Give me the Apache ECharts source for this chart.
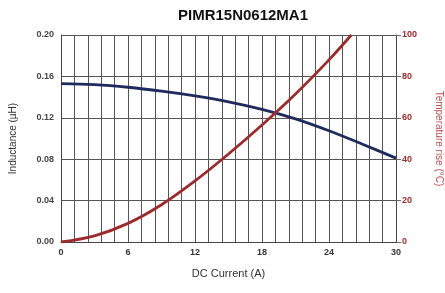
<!DOCTYPE html>
<html>
<head>
<meta charset="utf-8">
<script src="https://cdn.jsdelivr.net/npm/echarts@6/dist/echarts.min.js"></script>
<style>html,body{margin:0;padding:0;background:#fff;}#c{width:445px;height:293px;}</style>
</head>
<body>
<div id="c"></div>
<script>
var titleText = 'PIMR15N0612MA1';
var currentL = [0, 3, 6, 9, 12, 15, 18, 21, 24, 27, 30];
var inductance = [0.153, 0.152, 0.1495, 0.1458, 0.1412, 0.1355, 0.1282, 0.119, 0.1075, 0.0945, 0.081];
var currentT = [0, 3, 6, 9, 12, 15, 18, 21, 24, 26];
var tempRise = [0, 3, 9, 18, 29.5, 42.5, 56.5, 71.5, 88, 100];
var xName = 'DC Current (A)';
var yLeftName = 'Inductance (\u00b5H)';
var yRightName = 'Temperature rise (\u00b0C)';

function pairs(xs, ys) { return xs.map(function (x, i) { return [x, ys[i]]; }); }

var chart = echarts.init(document.getElementById('c'));
chart.setOption({
  animation: false,
  backgroundColor: '#fff',
  title: {
    text: titleText, left: 238, top: 3, textAlign: 'center',
    textStyle: { fontFamily: 'Liberation Sans, Arial', fontSize: 15, fontWeight: 'bold', color: '#111' }
  },
  grid: { left: 61, right: 49, top: 35, bottom: 51, containLabel: false, outerBoundsMode: 'none' },
  xAxis: {
    type: 'value', min: 0, max: 30, interval: 1.2,
    name: xName, nameLocation: 'middle', nameGap: 26,
    nameTextStyle: { fontFamily: 'Liberation Sans, Arial', fontSize: 11, color: '#333' },
    axisLine: { show: true, lineStyle: { color: '#444', width: 1 } },
    axisTick: { show: false },
    splitLine: { show: true, lineStyle: { color: '#555', width: 1 } },
    axisLabel: {
      margin: 6, fontFamily: 'Liberation Sans, Arial', fontSize: 9, fontWeight: 'bold', color: '#333',
      formatter: function (v) { var r = v / 6; return Math.abs(r - Math.round(r)) < 1e-6 ? String(Math.round(v)) : ''; }
    }
  },
  yAxis: [{
    type: 'value', min: 0, max: 0.2, interval: 0.04,
    name: yLeftName, nameLocation: 'middle', nameGap: 43, nameRotate: 90,
    nameTextStyle: { fontFamily: 'Liberation Sans, Arial', fontSize: 10, color: '#333' },
    axisLine: { show: true, lineStyle: { color: '#444' } },
    axisTick: { show: false },
    splitLine: { show: true, lineStyle: { color: '#555', width: 1 } },
    axisLabel: { margin: 7, fontFamily: 'Liberation Sans, Arial', fontSize: 9, fontWeight: 'bold', color: '#444',
      formatter: function (v) { return v.toFixed(2); } }
  }, {
    type: 'value', min: 0, max: 100, interval: 20, position: 'right',
    name: yRightName, nameLocation: 'middle', nameGap: 38, nameRotate: -90,
    nameTextStyle: { fontFamily: 'Liberation Sans, Arial', fontSize: 10, color: '#c0504d' },
    axisLine: { show: true, lineStyle: { color: '#444' } },
    axisTick: { show: true, length: 5, lineStyle: { color: '#666' } },
    splitLine: { show: false },
    axisLabel: { margin: 6, fontFamily: 'Liberation Sans, Arial', fontSize: 9, fontWeight: 'bold', color: '#a52a2a' }
  }],
  series: [{
    type: 'line', yAxisIndex: 0, smooth: 0.35, symbol: 'none',
    lineStyle: { color: '#1f2b5e', width: 2.8 },
    data: pairs(currentL, inductance)
  }, {
    type: 'line', yAxisIndex: 1, smooth: 0.35, symbol: 'none',
    lineStyle: { color: '#9e2a2b', width: 2.8 },
    data: pairs(currentT, tempRise)
  }]
});
</script>
</body>
</html>
